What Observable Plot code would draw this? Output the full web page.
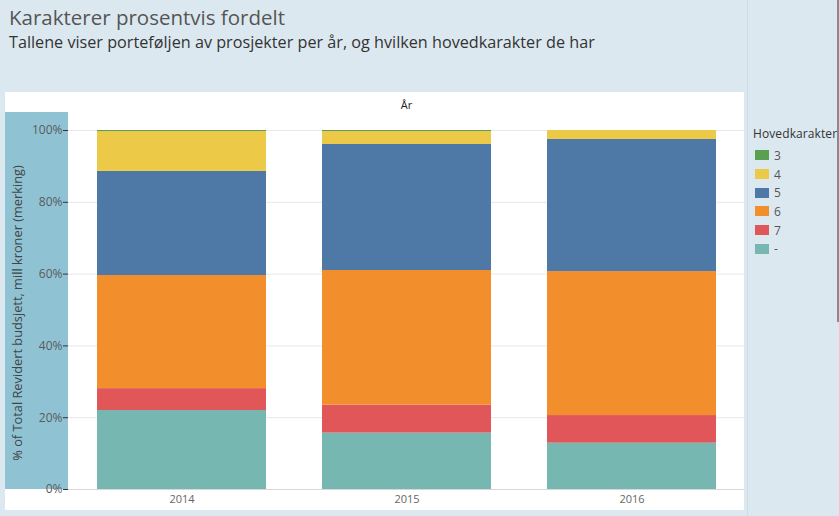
<!DOCTYPE html>
<html>
<head>
<meta charset="utf-8">
<script src="https://cdn.jsdelivr.net/npm/d3@7"></script>
<script src="https://cdn.jsdelivr.net/npm/@observablehq/plot@0.6"></script>
<style>
  html, body { margin: 0; padding: 0; }
  body { width: 839px; height: 516px; background: #dce8f0; position: relative; overflow: hidden; font-family: "Open Sans", "Noto Sans", sans-serif; }
  #title { position: absolute; left: 9px; top: 3px; font-size: 20.5px; color: #555; white-space: nowrap; }
  #subtitle { position: absolute; left: 9px; top: 31px; font-size: 16.2px; color: #333; white-space: nowrap; }
  #panel { position: absolute; left: 5px; top: 92px; width: 739px; height: 418px; background: #fff; }
  #yband { position: absolute; left: 5px; top: 112px; width: 63px; height: 377px; background: #8fc3d4; }
  #chart { position: absolute; left: 5px; top: 92px; }
  #legendPanel { position: absolute; left: 747px; top: 0; width: 90px; height: 516px; border-left: 1px solid #cddbe6; }
  #rightEdge { position: absolute; left: 837px; top: 0; width: 2px; height: 322px; background: #8a8a8a; }
  #legend { position: absolute; left: 753px; top: 125px; font-size: 12px; color: #333; }
  #legend .ttl { margin-bottom: 4px; letter-spacing: 0.1px; }
  #legend .row { display: flex; align-items: center; height: 18.7px; }
  #legend .sw { width: 14px; height: 10px; margin-left: 2px; margin-right: 5px; }
  #legend .lb { color: #555; font-size: 12px; }
</style>
</head>
<body>
<div id="title">Karakterer prosentvis fordelt</div>
<div id="subtitle">Tallene viser porteføljen av prosjekter per år, og hvilken hovedkarakter de har</div>
<div id="legendPanel"></div>
<div id="rightEdge"></div>
<div id="panel"></div>
<div id="yband"></div>
<div id="chart"></div>
<div id="legend"></div>
<script>
// Categories
const years = ["2014", "2015", "2016"];
const grades = ["3", "4", "5", "6", "7", "-"];           // legend order
const stackOrder = ["-", "7", "6", "5", "4", "3"];       // bottom to top
const gradeColors = ["#59a14f", "#edc948", "#4e79a7", "#f28e2b", "#e15759", "#76b7b2"];

// Percent share of total per year, one array per grade (2014, 2015, 2016)
const g3 = [0.3, 0.3, 0.0];
const g4 = [11.1, 3.6, 2.5];
const g5 = [29.0, 35.1, 36.8];
const g6 = [31.5, 37.5, 40.1];
const g7 = [6.1, 7.8, 7.7];
const gDash = [22.0, 15.7, 12.9];

const yTicks = [0, 20, 40, 60, 80, 100];
const yLabel = "% of Total Revidert budsjett, mill kroner (merking)";
const headerLabel = "År";
const legendTitle = "Hovedkarakter";

const seriesByGrade = { "3": g3, "4": g4, "5": g5, "6": g6, "7": g7, "-": gDash };
const rows = [];
for (const g of stackOrder) {
  years.forEach((y, i) => rows.push({ year: y, grade: g, value: seriesByGrade[g][i] }));
}

const chart = Plot.plot({
  width: 739,
  height: 418,
  marginLeft: 63,
  marginRight: 0,
  marginTop: 38,
  marginBottom: 21,
  style: { background: "transparent", fontFamily: "'Open Sans', 'Noto Sans', sans-serif" },
  x: { domain: years, paddingInner: 0.25, paddingOuter: 0.125, label: null },
  y: { domain: [0, 100], label: null },
  color: { domain: grades, range: gradeColors },
  marks: [
    Plot.gridY(yTicks, { stroke: "#e8e8e8", strokeOpacity: 1 }),
    Plot.barY(rows, Plot.stackY({
      x: "year",
      y: "value",
      fill: "grade",
      order: stackOrder
    })),
    Plot.ruleY([0], { stroke: "#d8d8d8" }),
    Plot.axisY(yTicks, {
      tickFormat: d => d + "%",
      tickSize: 5,
      tickPadding: 1,
      fontSize: 12,
      fill: "#5a5a5a",
      stroke: "#333",
      label: null
    }),
    Plot.axisX({ tickSize: 0, tickPadding: 6, fontSize: 11, fill: "#666", label: null }),
    Plot.text([yLabel], {
      frameAnchor: "left",
      textAnchor: "middle",
      rotate: -90,
      dx: -51,
      dy: 3,
      fontSize: 12.8,
      fill: "#444"
    }),
    Plot.text([headerLabel], {
      frameAnchor: "top",
      dy: -29,
      fontSize: 11,
      fill: "#222"
    })
  ]
});
document.getElementById("chart").appendChild(chart);

// Legend (HTML)
const legend = document.getElementById("legend");
const t = document.createElement("div");
t.className = "ttl";
t.textContent = legendTitle;
legend.appendChild(t);
grades.forEach((g, i) => {
  const r = document.createElement("div");
  r.className = "row";
  const s = document.createElement("div");
  s.className = "sw";
  s.style.background = gradeColors[i];
  const l = document.createElement("span");
  l.className = "lb";
  l.textContent = g;
  r.appendChild(s);
  r.appendChild(l);
  legend.appendChild(r);
});
</script>
</body>
</html>
